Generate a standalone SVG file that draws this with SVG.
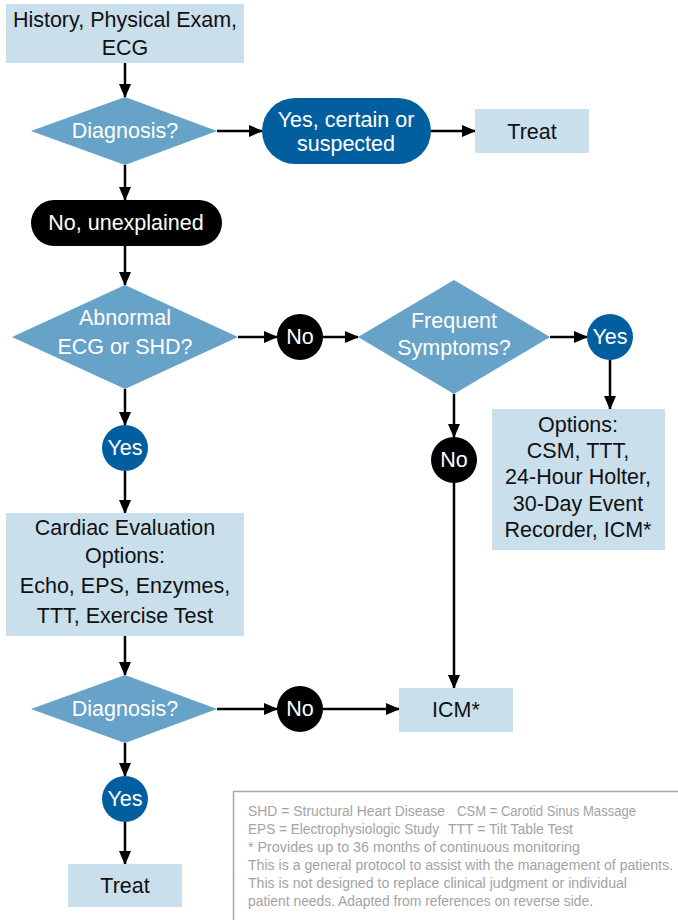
<svg xmlns="http://www.w3.org/2000/svg" width="678" height="920" viewBox="0 0 678 920">
<defs>
<marker id="ah" markerWidth="14" markerHeight="12" refX="13" refY="6" orient="auto" markerUnits="userSpaceOnUse">
<path d="M0,0 L14,6 L0,12 Z" fill="#000"/>
</marker>
<style>
.box{fill:#cadfec}
.dia{fill:#67a2c8}
.pillB{fill:#025f9f}
.blk{fill:#000}
.t{font-family:"Liberation Sans",Arial,sans-serif;font-size:21.5px;text-anchor:middle}
.dk{fill:#111}
.wh{fill:#fff}
.ln{stroke:#000;stroke-width:2.5;fill:none}
.lg{font-family:"Liberation Sans",Arial,sans-serif;font-size:14px;fill:#a3a3a3}
</style>
</defs>
<rect width="678" height="920" fill="#fff"/>

<g id="connectors">
<line class="ln" x1="125" y1="63" x2="125" y2="97" marker-end="url(#ah)"/>
<line class="ln" x1="217" y1="131" x2="262" y2="131" marker-end="url(#ah)"/>
<line class="ln" x1="431" y1="131" x2="475" y2="131" marker-end="url(#ah)"/>
<line class="ln" x1="125" y1="165" x2="125" y2="200" marker-end="url(#ah)"/>
<line class="ln" x1="125" y1="246" x2="125" y2="285" marker-end="url(#ah)"/>
<line class="ln" x1="238" y1="337" x2="277" y2="337" marker-end="url(#ah)"/>
<line class="ln" x1="323" y1="337" x2="358" y2="337" marker-end="url(#ah)"/>
<line class="ln" x1="550" y1="337" x2="587" y2="337" marker-end="url(#ah)"/>
<line class="ln" x1="610" y1="360" x2="610" y2="409" marker-end="url(#ah)"/>
<line class="ln" x1="454" y1="394" x2="454" y2="437" marker-end="url(#ah)"/>
<line class="ln" x1="454" y1="483" x2="454" y2="688" marker-end="url(#ah)"/>
<line class="ln" x1="125" y1="389" x2="125" y2="425" marker-end="url(#ah)"/>
<line class="ln" x1="125" y1="471" x2="125" y2="513" marker-end="url(#ah)"/>
<line class="ln" x1="125" y1="636" x2="125" y2="675" marker-end="url(#ah)"/>
<line class="ln" x1="217" y1="709" x2="277" y2="709" marker-end="url(#ah)"/>
<line class="ln" x1="323" y1="709" x2="399" y2="709" marker-end="url(#ah)"/>
<line class="ln" x1="125" y1="743" x2="125" y2="776" marker-end="url(#ah)"/>
<line class="ln" x1="125" y1="822" x2="125" y2="864" marker-end="url(#ah)"/>
</g>

<g id="history">
<rect class="box" x="6" y="4" width="238" height="59"/>
<text class="t dk" x="125" y="27">History, Physical Exam,</text>
<text class="t dk" x="125" y="55">ECG</text>
</g>

<g id="diag1">
<polygon class="dia" points="125,97 217,131 125,165 31,131"/>
<text class="t wh" x="125" y="138">Diagnosis?</text>
</g>

<g id="yes-certain">
<rect class="pillB" x="262" y="98" width="169" height="66" rx="33"/>
<text class="t wh" x="346" y="127">Yes, certain or</text>
<text class="t wh" x="346" y="151">suspected</text>
</g>

<g id="treat1">
<rect class="box" x="475" y="109" width="114" height="44"/>
<text class="t dk" x="532" y="139">Treat</text>
</g>

<g id="no-unexplained">
<rect class="blk" x="31" y="200" width="191" height="46" rx="23"/>
<text class="t wh" x="126" y="230">No, unexplained</text>
</g>

<g id="abnormal">
<polygon class="dia" points="125,285 238,337 125,389 12,337"/>
<text class="t wh" x="125" y="325">Abnormal</text>
<text class="t wh" x="125" y="354">ECG or SHD?</text>
</g>

<g id="no1">
<circle class="blk" cx="300" cy="337" r="23"/>
<text class="t wh" x="300" y="344">No</text>
</g>

<g id="frequent">
<polygon class="dia" points="454,280 550,337 454,394 358,337"/>
<text class="t wh" x="454" y="328">Frequent</text>
<text class="t wh" x="454" y="355">Symptoms?</text>
</g>

<g id="yes2">
<circle class="pillB" cx="610" cy="337" r="23"/>
<text class="t wh" x="610" y="344">Yes</text>
</g>

<g id="options">
<rect class="box" x="492" y="409" width="173" height="141"/>
<text class="t dk" x="578" y="432">Options:</text>
<text class="t dk" x="578" y="458">CSM, TTT,</text>
<text class="t dk" x="578" y="484">24-Hour Holter,</text>
<text class="t dk" x="578" y="511">30-Day Event</text>
<text class="t dk" x="578" y="537">Recorder, ICM*</text>
</g>

<g id="no2">
<circle class="blk" cx="454" cy="460" r="23"/>
<text class="t wh" x="454" y="467">No</text>
</g>

<g id="yes1">
<circle class="pillB" cx="125" cy="448" r="23"/>
<text class="t wh" x="125" y="455">Yes</text>
</g>

<g id="cardiac">
<rect class="box" x="6" y="513" width="238" height="123"/>
<text class="t dk" x="125" y="535">Cardiac Evaluation</text>
<text class="t dk" x="125" y="563">Options:</text>
<text class="t dk" x="125" y="593">Echo, EPS, Enzymes,</text>
<text class="t dk" x="125" y="623">TTT, Exercise Test</text>
</g>

<g id="diag2">
<polygon class="dia" points="125,675 217,709 125,743 31,709"/>
<text class="t wh" x="125" y="716">Diagnosis?</text>
</g>

<g id="no3">
<circle class="blk" cx="300" cy="709" r="23"/>
<text class="t wh" x="300" y="716">No</text>
</g>

<g id="icm">
<rect class="box" x="399" y="688" width="114" height="44"/>
<text class="t dk" x="456" y="717">ICM*</text>
</g>

<g id="yes3">
<circle class="pillB" cx="125" cy="799" r="23"/>
<text class="t wh" x="125" y="806">Yes</text>
</g>

<g id="treat2">
<rect class="box" x="68" y="864" width="114" height="43"/>
<text class="t dk" x="125" y="893">Treat</text>
</g>

<g id="legend">
<rect x="233.5" y="791.5" width="450" height="140" fill="none" stroke="#a8a8a8" stroke-width="1.5"/>
<text class="lg" x="248" y="816" textLength="197" lengthAdjust="spacingAndGlyphs">SHD = Structural Heart Disease</text>
<text class="lg" x="457" y="816" textLength="179" lengthAdjust="spacingAndGlyphs">CSM = Carotid Sinus Massage</text>
<text class="lg" x="248" y="834" textLength="191" lengthAdjust="spacingAndGlyphs">EPS = Electrophysiologic Study</text>
<text class="lg" x="448" y="834" textLength="125" lengthAdjust="spacingAndGlyphs">TTT = Tilt Table Test</text>
<text class="lg" x="248" y="852" textLength="332" lengthAdjust="spacingAndGlyphs">* Provides up to 36 months of continuous monitoring</text>
<text class="lg" x="248" y="870" textLength="425" lengthAdjust="spacingAndGlyphs">This is a general protocol to assist with the management of patients.</text>
<text class="lg" x="248" y="888" textLength="379" lengthAdjust="spacingAndGlyphs">This is not designed to replace clinical judgment or individual</text>
<text class="lg" x="248" y="906" textLength="345" lengthAdjust="spacingAndGlyphs">patient needs. Adapted from references on reverse side.</text>
</g>
</svg>
